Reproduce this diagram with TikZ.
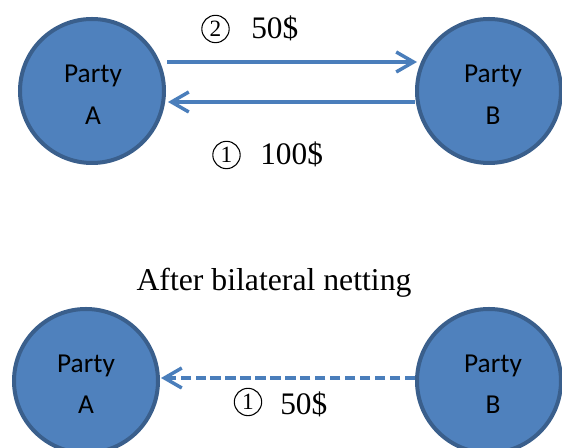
\documentclass[tikz,border=0pt]{standalone}
\usepackage{fontspec}
\setmainfont{Liberation Serif}
\newfontfamily\partyfont{Carlito}
\usetikzlibrary{arrows.meta,calc}

\definecolor{partyfill}{HTML}{4F81BD}
\definecolor{partyedge}{HTML}{3A5F8C}
\definecolor{flowblue}{HTML}{4A7EBB}

\tikzset{
  party/.style={circle, draw=partyedge, fill=partyfill, line width=3pt,
    minimum size=108pt, inner sep=0pt},
  partytext/.style={anchor=base, font=\partyfont\fontsize{20.5}{24}\selectfont, inner sep=0pt},
  amount/.style={anchor=base west, font=\fontsize{23.5}{28}\selectfont, inner sep=0pt},
  stepnum/.style={circle, draw=black, line width=0.8pt, minimum size=20.5pt,
    inner sep=0pt, font=\fontsize{17.5}{18}\selectfont},
  heading/.style={anchor=base, font=\fontsize{23.8}{28}\selectfont, inner sep=0pt},
  flow/.style={draw=flowblue, line width=2.6pt,
    -{Straight Barb[length=13pt, width=15pt, line width=2.6pt]}},
  netflow/.style={flow, dash pattern=on 7.8pt off 3.4pt}
}

\begin{document}
\begin{tikzpicture}[x=0.75pt, y=-0.75pt]
  \useasboundingbox (0,0) rectangle (562,448);

  % gross exchange
  \node[party] (A1) at (92,91) {};
  \node[party] (B1) at (489,91) {};
  \node[partytext] (A1t) at ($(A1.center)+(1,-8)$) {Party};
  \node[partytext] (A1l) at ($(A1.center)+(1,34)$) {A};
  \node[partytext] (B1t) at ($(B1.center)+(4,-8)$) {Party};
  \node[partytext] (B1l) at ($(B1.center)+(4,34)$) {B};

  \draw[flow] ($(A1.east)+(1,-29)$) -- ($(B1.west)+(2,-29)$);
  \draw[flow] ($(B1.west)+(0,11)$) -- ($(A1.east)+(2,11)$);

  \node[stepnum] (s2) at (215.5,29) {2};
  \node[amount] (m2) at (251,39) {50\$};
  \node[stepnum] (s1) at (226.5,155) {1};
  \node[amount] (m1) at (260,165) {100\$};

  % after netting
  \node[heading] (title) at (274,291) {After bilateral netting};

  \node[party] (A2) at (86,381) {};
  \node[party] (B2) at (489,381) {};
  \node[partytext] (A2t) at ($(A2.center)+(0,-8)$) {Party};
  \node[partytext] (A2l) at ($(A2.center)+(0,33)$) {A};
  \node[partytext] (B2t) at ($(B2.center)+(4,-8)$) {Party};
  \node[partytext] (B2l) at ($(B2.center)+(4,33)$) {B};

  \draw[netflow] ($(B2.west)+(0,-3)$) -- ($(A2.east)+(1,-3)$);

  \node[stepnum] (n1) at (248,402) {1};
  \node[amount] (nm1) at (280,415) {50\$};
\end{tikzpicture}
\end{document}
